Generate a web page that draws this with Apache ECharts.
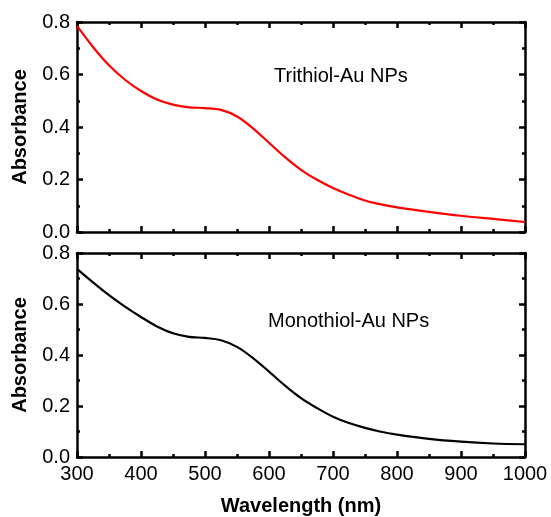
<!DOCTYPE html>
<html>
<head>
<meta charset="utf-8">
<script src="https://cdn.jsdelivr.net/npm/echarts@6/dist/echarts.min.js"></script>
<style>
html,body{margin:0;padding:0;background:#fff;}
#c{width:551px;height:517px;}
</style>
</head>
<body>
<div id="c"></div>
<script>
const wavelengths = [300,325,350,375,400,425,450,475,500,525,550,575,600,625,650,675,700,725,750,775,800,850,900,950,1000];
const trithiol = [0.785,0.705,0.635,0.58,0.537,0.505,0.485,0.475,0.472,0.465,0.44,0.395,0.34,0.285,0.237,0.199,0.168,0.142,0.12,0.105,0.094,0.077,0.062,0.05,0.038];
const monothiol = [0.738,0.685,0.635,0.59,0.549,0.512,0.485,0.471,0.467,0.458,0.432,0.388,0.335,0.28,0.231,0.192,0.158,0.133,0.114,0.099,0.088,0.071,0.06,0.053,0.05];
const xTicks = [300,400,500,600,700,800,900,1000];
const yTicks = [0.0,0.2,0.4,0.6,0.8];
const labelTop = "Trithiol-Au NPs";
const labelBottom = "Monothiol-Au NPs";

const FONT = "Liberation Sans, Arial, sans-serif";
const chart = echarts.init(document.getElementById('c'));

function xAx(grid, pos, showLabel, name) {
  return {
    type:'value', gridIndex:grid, position:pos, min:300, max:1000, interval:100,
    axisLine:{show:true, onZero:false, lineStyle:{color:'#000', width:2.5}},
    axisTick:{show:true, inside:true, length:6, lineStyle:{color:'#000', width:2.5}},
    minorTick:{show:true, splitNumber:2, length:3, lineStyle:{color:'#000', width:2.5}},
    splitLine:{show:false},
    axisLabel:{show:showLabel, color:'#000', fontSize:20, fontFamily:FONT, margin:7,
      formatter: v => String(v)},
    name: name || '', nameLocation:'middle', nameGap:39,
    nameTextStyle:{color:'#000', fontSize:20, fontWeight:'bold', fontFamily:FONT}
  };
}
function yAx(grid, pos, showLabel, name) {
  return {
    type:'value', gridIndex:grid, position:pos, min:0, max:0.8, interval:0.2,
    axisLine:{show:true, onZero:false, lineStyle:{color:'#000', width:2.5}},
    axisTick:{show:true, inside:true, length:6, lineStyle:{color:'#000', width:2.5}},
    minorTick:{show:true, splitNumber:2, length:3, lineStyle:{color:'#000', width:2.5}},
    splitLine:{show:false},
    axisLabel:{show:showLabel, color:'#000', fontSize:20, fontFamily:FONT, margin:7,
      formatter: v => v.toFixed(1)},
    name: name || '', nameLocation:'middle', nameGap:47, nameRotate:90,
    nameTextStyle:{color:'#000', fontSize:20, fontWeight:'bold', fontFamily:FONT}
  };
}

chart.setOption({
  animation:false,
  backgroundColor:'#fff',
  grid:[
    {left:77, right:26, top:22, height:210},
    {left:77, right:26, top:253, height:208}
  ],
  xAxis:[
    xAx(0,'bottom',false), xAx(0,'top',false),
    xAx(1,'bottom',true,'Wavelength (nm)'), xAx(1,'top',false)
  ],
  yAxis:[
    yAx(0,'left',true,'Absorbance'), yAx(0,'right',false),
    yAx(1,'left',true,'Absorbance'), yAx(1,'right',false)
  ],
  series:[
    {type:'line', xAxisIndex:0, yAxisIndex:0, data:wavelengths.map((w,i)=>[w,trithiol[i]]),
     smooth:0.35, showSymbol:false, lineStyle:{color:'#ff0000', width:2.2}},
    {type:'line', xAxisIndex:2, yAxisIndex:2, data:wavelengths.map((w,i)=>[w,monothiol[i]]),
     smooth:0.35, showSymbol:false, lineStyle:{color:'#000', width:2.2}}
  ],
  graphic:[
    {type:'text', left:274, top:66, style:{text:labelTop, fontSize:20, fontFamily:FONT, fill:'#000'}},
    {type:'text', left:268, top:311, style:{text:labelBottom, fontSize:20, fontFamily:FONT, fill:'#000'}}
  ]
});
</script>
</body>
</html>
